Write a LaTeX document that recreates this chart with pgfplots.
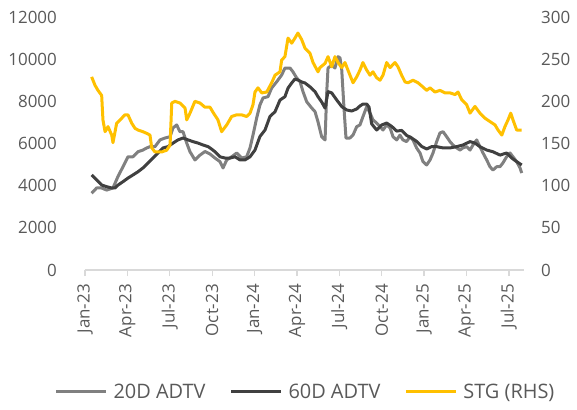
\documentclass[border=0pt]{standalone}
\usepackage{fontspec}
\setmainfont{Open Sans}
\usepackage{pgfplots}
\pgfplotsset{compat=1.18}
\definecolor{txtgrey}{HTML}{595959}
\definecolor{axgrey}{HTML}{D9D9D9}
\definecolor{cA}{HTML}{808080}
\definecolor{cB}{HTML}{404040}
\definecolor{cC}{HTML}{FFC000}
\begin{document}
\begin{tikzpicture}
\path[use as bounding box] (-85bp,-140bp) rectangle (492bp,270bp);
\pgfplotsset{
  common/.style={
    at={(0,0)}, anchor=south west,
    scale only axis, width=439bp, height=253bp,
    xmin=0, xmax=31.07,
    scaled y ticks=false,
    /pgf/number format/assume math mode=true,
    /pgf/number format/1000 sep={},
    tick label style={font=\fontsize{17}{20}\selectfont, text=txtgrey},
    ytick style={draw=none},
    y axis line style={draw=none},
  }
}
\begin{axis}[common,
  ymin=0, ymax=12000,
  ytick={0,2000,...,12000},
  axis x line*=bottom, axis y line*=left,
  x axis line style={draw=axgrey, line width=1.3bp},
  xtick={0,3,...,30},
  xticklabels={Jan-23,Apr-23,Jul-23,Oct-23,Jan-24,Apr-24,Jul-24,Oct-24,Jan-25,Apr-25,Jul-25},
  xtick style={draw=axgrey, line width=1.3bp},
  tick align=outside, major tick length=6bp,
  xticklabel style={rotate=90, anchor=east, inner sep=0pt, xshift=-8bp},
  yticklabel style={inner sep=0pt, xshift=-22bp},
]
\addplot[cA, line width=3bp, line join=round] coordinates {
(0.47,3640)(0.82,3890)(1.18,3890)(1.53,3790)(1.98,3890)(2.33,4430)(2.69,4900)(3.04,5370)(3.40,5370)(3.75,5610)(4.10,5690)(4.37,5790)(4.60,5850)(4.95,5850)(5.31,6170)(5.66,6260)(6.02,6320)(6.23,6740)(6.49,6880)(6.72,6560)(6.94,6560)(7.20,6020)(7.43,5610)(7.78,5220)(8.14,5450)(8.49,5620)(8.85,5500)(9.20,5310)(9.55,5140)(9.77,4840)(10.03,5220)(10.38,5370)(10.74,5550)(11.09,5310)(11.44,5370)(11.68,5790)(11.89,6400)(12.15,7210)(12.38,7830)(12.60,8160)(12.95,8220)(13.21,8630)(13.57,8930)(13.92,9250)(14.15,9580)(14.51,9580)(14.72,9400)(14.98,9110)(15.22,8930)(15.43,8460)(15.69,7980)(16.05,7680)(16.28,7510)(16.49,7030)(16.75,6320)(16.99,6170)(17.11,8460)(17.20,9580)(17.46,9720)(17.69,9580)(17.91,10120)(18.05,10060)(18.17,9490)(18.33,7680)(18.47,6260)(18.75,6260)(18.97,6400)(19.23,6800)(19.46,6880)(19.67,7270)(19.94,7750)(20.17,7450)(20.38,7120)(20.64,6970)(20.88,6800)(21.09,6640)(21.35,6880)(21.59,6740)(21.80,6320)(22.06,6170)(22.29,6400)(22.50,6170)(22.76,6090)(23.00,6320)(23.21,6170)(23.47,5790)(23.71,5550)(23.92,5140)(24.18,4980)(24.42,5220)(24.63,5550)(24.89,6090)(25.12,6500)(25.34,6560)(25.60,6320)(25.83,6090)(26.04,5930)(26.31,5790)(26.54,5690)(26.75,5790)(27.01,5850)(27.25,5690)(27.46,5930)(27.72,6170)(27.95,5850)(28.17,5550)(28.43,5220)(28.66,4900)(28.87,4740)(29.14,4900)(29.37,4900)(29.58,5080)(29.84,5370)(30.08,5550)(30.29,5370)(30.55,5140)(30.79,4840)(30.91,4600)
};
\addplot[cB, line width=3bp, line join=round] coordinates {
(0.47,4510)(0.83,4270)(1.18,4030)(1.54,3950)(1.89,3890)(2.12,3890)(2.34,4030)(2.69,4190)(3.04,4360)(3.40,4510)(3.75,4660)(4.10,4840)(4.46,5080)(4.81,5310)(5.17,5550)(5.52,5790)(5.87,5850)(6.23,6020)(6.58,6170)(6.94,6260)(7.30,6170)(7.64,6090)(8.00,6020)(8.35,5930)(8.71,5850)(8.85,5790)(9.20,5610)(9.55,5370)(9.91,5310)(10.26,5310)(10.62,5370)(10.97,5220)(11.32,5220)(11.68,5370)(12.03,5690)(12.38,6330)(12.74,6640)(13.09,7280)(13.45,7510)(13.80,8060)(14.15,8220)(14.37,8630)(14.63,8870)(14.86,9060)(15.07,9010)(15.34,8920)(15.57,8870)(15.92,8690)(16.28,8460)(16.49,8220)(16.75,7970)(16.99,7680)(17.20,8460)(17.46,8400)(17.82,8060)(18.17,7750)(18.52,7590)(18.88,7540)(19.23,7640)(19.46,7780)(19.67,7870)(19.94,7870)(20.10,7730)(20.29,6930)(20.64,6640)(21.00,6880)(21.35,6970)(21.71,6810)(22.06,6590)(22.41,6620)(22.77,6380)(23.12,6260)(23.47,6100)(23.83,5860)(24.18,5740)(24.53,5850)(24.89,5850)(25.34,5790)(25.83,5790)(26.31,5850)(26.75,5930)(27.25,6090)(27.60,6020)(27.95,5850)(28.43,5690)(28.87,5610)(29.37,5450)(29.84,5550)(30.20,5310)(30.55,5140)(30.91,4980)
};
\end{axis}
\begin{axis}[common,
  ymin=0, ymax=300,
  ytick={0,50,...,300},
  axis x line=none, axis y line*=right,
  yticklabel style={inner sep=0pt, xshift=17bp},
  legend columns=3,
  legend style={at={(0.5,-0.482)}, anchor=center, draw=none, fill=none,
    font=\fontsize{20}{24}\selectfont, text=txtgrey,
    /tikz/every even column/.append style={column sep=24bp},
    nodes={inner sep=0pt}, column sep=0pt},
  legend image code/.code={\draw[#1] (0bp,0bp) -- (50bp,0bp); \path (56bp,0bp);},
]
\addlegendimage{cA, line width=3bp}
\addlegendentry{20D ADTV}
\addlegendimage{cB, line width=3bp}
\addlegendentry{60D ADTV}
\addplot[cC, line width=3bp, line join=round] coordinates {
(0.47,229)(0.71,219)(0.92,213)(1.18,207)(1.27,178)(1.42,164)(1.63,170)(1.89,160)(1.98,151)(2.24,174)(2.48,178)(2.83,184)(3.04,184)(3.31,174)(3.54,168)(3.75,166)(4.10,164)(4.37,162)(4.60,160)(4.72,145)(4.95,140)(5.43,140)(5.78,142)(6.02,148)(6.14,198)(6.37,200)(6.72,198)(7.08,192)(7.20,178)(7.43,186)(7.78,200)(8.14,198)(8.49,193)(8.85,193)(9.06,187)(9.41,178)(9.67,164)(10.03,172)(10.38,182)(10.74,184)(11.09,184)(11.44,182)(11.68,186)(11.89,196)(12.03,211)(12.24,216)(12.51,210)(12.86,211)(13.21,222)(13.45,231)(13.80,235)(13.92,249)(14.15,253)(14.37,275)(14.63,269)(14.86,275)(15.07,281)(15.34,273)(15.57,263)(15.92,257)(16.14,246)(16.49,235)(16.63,240)(16.99,245)(17.20,253)(17.46,241)(17.69,253)(17.91,246)(18.17,240)(18.40,246)(18.61,237)(18.97,222)(19.23,229)(19.46,237)(19.67,246)(19.94,237)(20.17,231)(20.38,235)(20.64,228)(20.88,225)(21.09,231)(21.35,246)(21.59,240)(21.94,246)(22.15,241)(22.41,231)(22.65,223)(22.86,222)(23.21,225)(23.57,222)(23.92,217)(24.18,213)(24.42,216)(24.77,211)(25.12,213)(25.48,210)(25.83,210)(26.19,208)(26.40,211)(26.66,202)(27.01,196)(27.25,186)(27.60,194)(27.95,186)(28.31,180)(28.66,176)(29.02,172)(29.23,166)(29.50,160)(29.72,170)(29.94,178)(30.13,186)(30.29,178)(30.55,166)(30.91,166)
};
\addlegendentry{STG (RHS)}
\end{axis}
\end{tikzpicture}
\end{document}
